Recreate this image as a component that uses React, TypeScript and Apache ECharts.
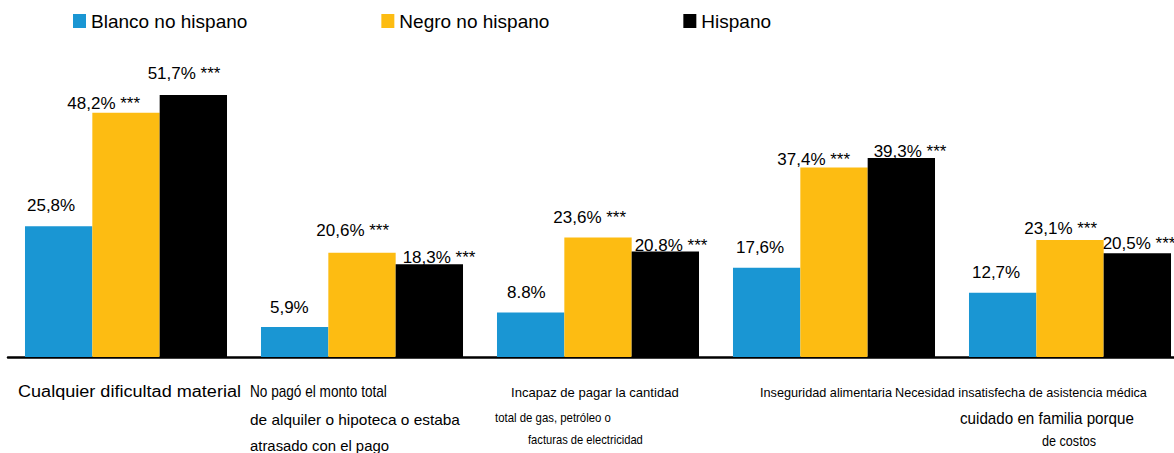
import React, { useEffect, useRef } from "react";
import * as echarts from "echarts";

const categories = [
  "Cualquier dificultad material",
  "No pagó el monto total de alquiler o hipoteca o estaba atrasado con el pago",
  "Incapaz de pagar la cantidad total de gas, petróleo o facturas de electricidad",
  "Inseguridad alimentaria",
  "Necesidad insatisfecha de asistencia médica cuidado en familia porque de costos",
];

const categoryLines = [
  ["Cualquier dificultad material"],
  ["No pagó el monto total", "de alquiler o hipoteca o estaba", "atrasado con el pago"],
  ["Incapaz de pagar la cantidad", "total de gas, petróleo o", "facturas de electricidad"],
  ["Inseguridad alimentaria"],
  ["Necesidad insatisfecha de asistencia médica", "cuidado en familia porque", "de costos"],
];

const seriesNames = ["Blanco no hispano", "Negro no hispano", "Hispano"];

const blancoValues = [25.8, 5.9, 8.8, 17.6, 12.7];
const negroValues = [48.2, 20.6, 23.6, 37.4, 23.1];
const hispanoValues = [51.7, 18.3, 20.8, 39.3, 20.5];

const blancoLabels = ["25,8%", "5,9%", "8.8%", "17,6%", "12,7%"];
const negroLabels = ["48,2% ***", "20,6% ***", "23,6% ***", "37,4% ***", "23,1% ***"];
const hispanoLabels = ["51,7% ***", "18,3% ***", "20.8% ***", "39,3% ***", "20,5% ***"];

const colors = ["#1a96d3", "#fdbc12", "#000000"];
const FONT = '"Liberation Sans", Arial, Helvetica, sans-serif';

// label offsets relative to each bar's top-left corner (layout)
const labelOffsets = [
  [[2, -20.5], [9, -20], [10, -20], [3, -20], [3, -20.5]],
  [[-25, -9], [-12, -22.6], [-11, -20], [-23, -8.5], [-12, -11]],
  [[-12, -22], [7, -7], [3, -6.5], [6, -6], [-1, -10]],
];

// x-axis label line layout: [left, right, centerY, fontSize] per line
const lineLayout = [
  [[18, 241, 392, 16]],
  [[250, 387, 392, 16], [250, 460, 420, 15], [250, 389, 445, 15]],
  [[511, 679, 393, 13], [495, 611, 418, 13], [528, 643, 440, 13]],
  [[760, 892, 392, 13]],
  [[895, 1147, 392, 13], [960, 1134, 418, 16], [1042, 1096, 441, 15]],
];

export default function App() {
  const ref = useRef<HTMLDivElement>(null);
  useEffect(() => {
    if (!ref.current) return;
    const chart = echarts.init(ref.current, null, { renderer: "svg" });
    const canvas = document.createElement("canvas");
    const ctx = canvas.getContext("2d");
    const measure = (t: string, size: number) => {
      if (!ctx) return t.length * size * 0.5;
      ctx.font = `${size}px ${FONT}`;
      return ctx.measureText(t).width;
    };

    const graphics: any[] = [];
    categoryLines.forEach((lines, ci) => {
      lines.forEach((line, li) => {
        const [l, r, cy, fs] = lineLayout[ci][li];
        const w = measure(line, fs);
        graphics.push({
          type: "text",
          x: l,
          y: cy,
          scaleX: (r - l) / w,
          style: {
            text: line,
            fontSize: fs,
            fontFamily: FONT,
            fill: "#000",
            align: "left",
            verticalAlign: "middle",
          },
        });
      });
    });

    const allValues = [blancoValues, negroValues, hispanoValues];
    const allLabels = [blancoLabels, negroLabels, hispanoLabels];

    const series = allValues.map((vals, si) => ({
      name: seriesNames[si],
      type: "bar",
      barGap: "0%",
      barCategoryGap: "14.4%",
      itemStyle: { color: colors[si] },
      data: vals.map((v, i) => ({
        value: v,
        label: {
          show: true,
          position: labelOffsets[si][i],
          formatter: allLabels[si][i],
          align: "left",
          verticalAlign: "middle",
          fontSize: 17,
          fontFamily: FONT,
          color: "#000",
        },
      })),
    }));

    chart.setOption({
      animation: false,
      color: colors,
      legend: {
        data: seriesNames,
        left: 68,
        top: 6,
        itemWidth: 13,
        itemHeight: 14,
        itemGap: 134,
        icon: "rect",
        textStyle: { fontSize: 19, fontFamily: FONT, color: "#000", lineHeight: 20 },
      },
      grid: {
        left: 8,
        top: 53,
        width: 1180,
        height: 304,
        containLabel: false,
        outerBoundsMode: "none",
      },
      xAxis: {
        type: "category",
        data: categories,
        axisLine: { show: true, lineStyle: { color: "#000", width: 2.5 } },
        axisTick: { show: false },
        axisLabel: { show: false },
      },
      yAxis: {
        type: "value",
        min: 0,
        max: 60,
        show: false,
        splitLine: { show: false },
      },
      graphic: graphics,
      series,
    });
    return () => chart.dispose();
  }, []);
  return (
    <div
      ref={ref}
      style={{ position: "absolute", left: 0, top: 0, width: 1174, height: 453, background: "#fff" }}
    />
  );
}
